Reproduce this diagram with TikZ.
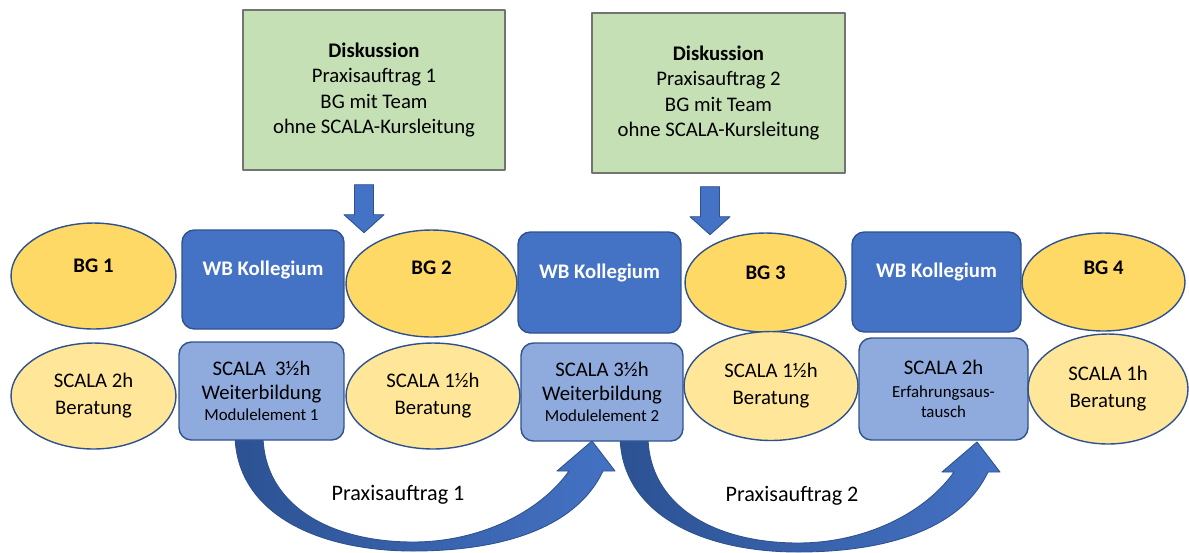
\documentclass[tikz,border=0pt]{standalone}
\usepackage{fontspec}
\setmainfont{Carlito}
\usetikzlibrary{shapes.geometric}
\definecolor{bggelb}{HTML}{FFD966}
\definecolor{hellgelb}{HTML}{FFE699}
\definecolor{wbblau}{HTML}{4472C4}
\definecolor{hellblau}{HTML}{8FAADC}
\definecolor{rand}{HTML}{2F528F}
\definecolor{gruen}{HTML}{C5E0B4}
\definecolor{dunkelblau}{HTML}{2C5293}
\tikzset{
	ell/.style={ellipse, draw=rand, line width=0.8pt, inner sep=0pt, align=center},
	box/.style={rectangle, rounded corners=7pt, draw=rand, line width=0.8pt, inner sep=0pt, align=center},
	disk/.style={rectangle, draw=black!55, fill=gruen, line width=0.8pt, align=center, minimum height=3.2cm,
		font=\fontsize{11.8}{14.3}\selectfont},
	oben/.style 2 args={label={[font=\fontsize{11.8}{14}\selectfont\bfseries, yshift=#1]center:#2}}
}
\newcommand\klein{\fontsize{9.6}{12}\selectfont}
\begin{document}
\begin{tikzpicture}[line join=round, x=0.02cm, y=-0.02cm, font=\fontsize{11.8}{15.3}\selectfont]
	\useasboundingbox (0,0) rectangle (1189,552);
	% Praxisauftrag-Boegen
	\foreach \dx/\dy/\lx/\txt in {0/0/398/Praxisauftrag 1, 385/1/407/Praxisauftrag 2}
	\draw[draw=rand, line width=0.5pt, left color=dunkelblau, right color=wbblau, shift={(\dx,\dy)}]
		(235,436) .. controls (237,515) and (320,551) .. (413,551)
		.. controls (510,551) and (578,524) .. (603,471) -- (615,471) -- (592,441) -- (557,471) -- (569,471)
		.. controls (540,512) and (480,542) .. (413,542)
		.. controls (330,542) and (264,505) .. (263,436) -- cycle
		(\lx,495) node[text=black, font=\fontsize{12.6}{15}\selectfont] {\txt};
	% obere Reihe
	\node[ell, fill=bggelb, minimum width=3.3cm, minimum height=2.12cm, oben={0.2cm}{BG 1}] (bg1) at (93.5,276) {};
	\node[box, fill=wbblau, minimum width=3.24cm, minimum height=1.98cm, oben={0.2cm}{\color{white}WB Kollegium}] (wb1) at (263,279.5) {};
	\node[ell, fill=bggelb, minimum width=3.42cm, minimum height=2.14cm, oben={0.32cm}{BG 2}] (bg2) at (431.5,283.5) {};
	\node[box, fill=wbblau, minimum width=3.26cm, minimum height=2.02cm, oben={0.2cm}{\color{white}WB Kollegium}] (wb2) at (599.5,282.5) {};
	\node[ell, fill=bggelb, minimum width=3.22cm, minimum height=1.98cm, oben={0.2cm}{BG 3}] (bg3) at (765.5,282.5) {};
	\node[box, fill=wbblau, minimum width=3.38cm, minimum height=2cm, oben={0.2cm}{\color{white}WB Kollegium}] (wb3) at (936.5,282) {};
	\node[ell, fill=bggelb, minimum width=3.26cm, minimum height=1.96cm, oben={0.28cm}{BG 4}] (bg4) at (1103.5,282) {};
	% untere Reihe
	\node[ell, fill=hellgelb, minimum width=3.3cm, minimum height=2.12cm] (sc1) at (93.5,396) {SCALA 2h\\Beratung};
	\node[box, fill=hellblau, minimum width=3.3cm, minimum height=1.96cm] (mod1) at (261.5,391)
		{SCALA\ \ 3½h\\[-2pt]Weiterbildung\\[-3pt]{\klein Modulelement 1}};
	\node[ell, fill=hellgelb, minimum width=3.48cm, minimum height=2.12cm] (sc2) at (433,396) {SCALA 1½h\\Beratung};
	\node[box, fill=hellblau, minimum width=3.24cm, minimum height=1.96cm] (mod2) at (602,392)
		{SCALA 3½h\\[-2pt]Weiterbildung\\[-3pt]{\klein Modulelement 2}};
	\node[ell, fill=hellgelb, minimum width=3.48cm, minimum height=2.18cm] (sc3) at (771,386) {SCALA 1½h\\Beratung};
	\node[box, fill=hellblau, minimum width=3.38cm, minimum height=2.04cm] (erf) at (943.5,389)
		{SCALA 2h\\[-2pt]{\klein Erfahrungsaus-}\\[-4pt]{\klein tausch}};
	\node[ell, fill=hellgelb, minimum width=3.2cm, minimum height=2.2cm] (sc4) at (1108,389) {SCALA 1h\\Beratung};
	% Diskussion
	\node[disk, minimum width=5.24cm] (disk1) at (374,90)
		{\textbf{Diskussion}\\Praxisauftrag 1\\BG mit Team\\ohne SCALA-Kursleitung};
	\node[disk, minimum width=5.06cm] (disk2) at (718.5,93)
		{\textbf{Diskussion}\\Praxisauftrag 2\\BG mit Team\\ohne SCALA-Kursleitung};
	\foreach \n/\dx/\dy in {disk1/-10/14, disk2/-8.5/13}
	\draw[draw=rand, line width=0.5pt, fill=wbblau] ([shift={(\dx,\dy)}]\n.south) ++(-9.5,0) -- ++(19,0) -- ++(0,30)
		-- ++(10.5,0) -- ++(-20,18) -- ++(-20,-18) -- ++(10.5,0) -- cycle;
\end{tikzpicture}
\end{document}
